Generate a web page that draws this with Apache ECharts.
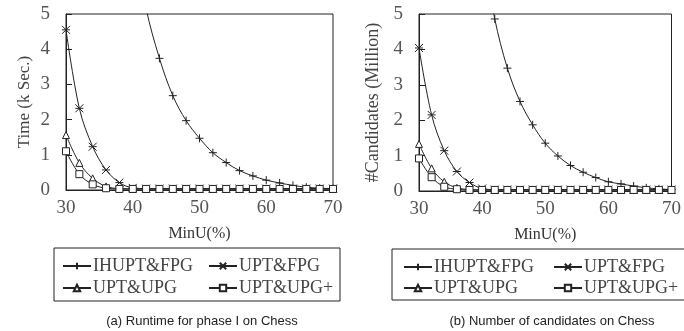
<!DOCTYPE html>
<html>
<head>
<meta charset="utf-8">
<script src="https://cdn.jsdelivr.net/npm/echarts@6/dist/echarts.min.js"></script>
<style>
  html, body { margin: 0; padding: 0; background: #fff; }
  #main { width: 684px; height: 331px; }
</style>
</head>
<body>
<div id="main"></div>
<script>
// MinU (%) on the x axis
var minU = [30, 32, 34, 36, 38, 40, 42, 44, 46, 48, 50, 52, 54, 56, 58, 60, 62, 64, 66, 68, 70];
var seriesNames = ['IHUPT&FPG', 'UPT&FPG', 'UPT&UPG', 'UPT&UPG+'];
var xTicks = [30, 40, 50, 60, 70];

// (a) runtime, k sec
var timeIHUPT = [null, null, null, null, 10.0, 7.2, 5.15, 3.74, 2.68, 1.97, 1.47, 1.06, 0.78, 0.55, 0.40, 0.28, 0.20, 0.13, 0.08, 0.05, 0.04];
var timeUPTFPG = [4.55, 2.32, 1.23, 0.57, 0.21, 0.06, 0.04, 0.04, 0.04, 0.04, 0.04, 0.04, 0.04, 0.04, 0.04, 0.04, 0.04, 0.04, 0.04, 0.04, 0.04];
var timeUPTUPG = [1.56, 0.77, 0.33, 0.10, 0.04, 0.03, 0.03, 0.03, 0.03, 0.03, 0.03, 0.03, 0.03, 0.03, 0.03, 0.03, 0.03, 0.03, 0.03, 0.03, 0.03];
var timeUPTUPGp = [1.10, 0.45, 0.16, 0.05, 0.03, 0.03, 0.03, 0.03, 0.03, 0.03, 0.03, 0.03, 0.03, 0.03, 0.03, 0.03, 0.03, 0.03, 0.03, 0.03, 0.03];

// (b) number of candidates, million
var candIHUPT = [null, null, null, null, 9.6, 6.9, 4.86, 3.47, 2.53, 1.87, 1.35, 0.99, 0.72, 0.53, 0.38, 0.26, 0.20, 0.14, 0.09, 0.06, 0.04];
var candUPTFPG = [4.04, 2.15, 1.14, 0.55, 0.24, 0.07, 0.04, 0.04, 0.04, 0.04, 0.04, 0.04, 0.04, 0.04, 0.04, 0.04, 0.04, 0.04, 0.04, 0.04, 0.04];
var candUPTUPG = [1.33, 0.64, 0.26, 0.09, 0.04, 0.03, 0.03, 0.03, 0.03, 0.03, 0.03, 0.03, 0.03, 0.03, 0.03, 0.03, 0.03, 0.03, 0.03, 0.03, 0.03];
var candUPTUPGp = [0.92, 0.39, 0.12, 0.05, 0.03, 0.03, 0.03, 0.03, 0.03, 0.03, 0.03, 0.03, 0.03, 0.03, 0.03, 0.03, 0.03, 0.03, 0.03, 0.03, 0.03];

var serif = '"Liberation Serif", "DejaVu Serif", serif';
var ink = '#222';
var symbols = [
    'path://M0,5L10,5M5,0L5,10',
    'path://M0,0L10,10M10,0L0,10M0,5L10,5',
    'triangle',
    'rect'
];
var symbolSizes = [8, 8, 7, 7];

function pairs(vals) {
    return minU.map(function (x, i) { return [x, vals[i]]; });
}

function makeSeries(name, vals, idx, k) {
    return {
        name: name,
        type: 'line',
        xAxisIndex: idx,
        yAxisIndex: idx,
        data: pairs(vals),
        smooth: 0.35,
        clip: true,
        symbol: symbols[k],
        symbolSize: symbolSizes[k],
        showSymbol: true,
        lineStyle: { color: ink, width: 1 },
        itemStyle: { color: '#fff', borderColor: ink, borderWidth: 1 },
        emphasis: { disabled: true }
    };
}

function xAxis(idx) {
    return {
        type: 'value', gridIndex: idx, min: 30, max: 70, interval: 10,
        name: 'MinU(%)', nameLocation: 'middle', nameGap: 36,
        nameTextStyle: { fontFamily: serif, fontSize: 16, color: '#333' },
        axisLine: { lineStyle: { color: ink } },
        axisTick: { inside: true, length: 5, lineStyle: { color: ink } },
        axisLabel: { fontFamily: serif, fontSize: 19, color: '#555', margin: 9,
            customValues: xTicks },
        splitLine: { show: false }
    };
}

function yAxis(idx, title, gap, size) {
    return {
        type: 'value', gridIndex: idx, min: 0, max: 5, interval: 1,
        name: title, nameLocation: 'middle', nameGap: gap, nameRotate: 90,
        nameTextStyle: { fontFamily: serif, fontSize: size, color: '#444' },
        axisLine: { lineStyle: { color: ink } },
        axisTick: { inside: true, length: 6, lineStyle: { color: ink } },
        axisLabel: { fontFamily: serif, fontSize: 19, color: '#555', margin: 16 },
        splitLine: { show: false }
    };
}

// legend slots: [left, top] per item for each chart
var legendPos = [
    [[62, 257], [208, 257], [62, 279], [208, 279]],
    [[403, 258], [553, 258], [403, 279], [553, 279]]
];
var legends = [];
legendPos.forEach(function (pos) {
    pos.forEach(function (p, k) {
        legends.push({
            data: [seriesNames[k]],
            left: p[0], top: p[1],
            padding: 0,
            itemWidth: 28, itemHeight: 8, itemGap: 0,
            selectedMode: false,
            textStyle: { fontFamily: serif, fontSize: 18, color: '#444', padding: [0, 0, 0, -3] }
        });
    });
});

var chart = echarts.init(document.getElementById('main'));
var series = [];
var timeData = [timeIHUPT, timeUPTFPG, timeUPTUPG, timeUPTUPGp];
var candData = [candIHUPT, candUPTFPG, candUPTUPG, candUPTUPGp];
seriesNames.forEach(function (n, k) { series.push(makeSeries(n, timeData[k], 0, k)); });
seriesNames.forEach(function (n, k) { series.push(makeSeries(n, candData[k], 1, k)); });

chart.setOption({
    animation: false,
    backgroundColor: '#fff',
    title: [
        { text: '(a) Runtime for phase I on Chess', left: 197, top: 310, textAlign: 'center',
          textStyle: { fontFamily: '"Liberation Sans", Arial, sans-serif', fontSize: 13, fontWeight: 'normal', color: '#222' } },
        { text: '(b) Number of candidates on Chess', left: 547, top: 310, textAlign: 'center',
          textStyle: { fontFamily: '"Liberation Sans", Arial, sans-serif', fontSize: 13, fontWeight: 'normal', color: '#222' } }
    ],
    grid: [
        { left: 66, right: 351, top: 14, bottom: 141, show: true, borderColor: ink, borderWidth: 1, backgroundColor: 'transparent' },
        { left: 419, right: 3, top: 14, bottom: 140, show: true, borderColor: ink, borderWidth: 1, backgroundColor: 'transparent' }
    ],
    xAxis: [xAxis(0), xAxis(1)],
    yAxis: [yAxis(0, 'Time (k Sec.)', 33, 17), yAxis(1, '#Candidates (Million)', 37, 18)],
    legend: legends,
    graphic: [
        { type: 'rect', shape: { x: 54, y: 248, width: 286, height: 53 },
          style: { fill: 'none', stroke: ink, lineWidth: 1 } },
        { type: 'rect', shape: { x: 392, y: 249, width: 300, height: 51 },
          style: { fill: 'none', stroke: ink, lineWidth: 1 } }
    ],
    series: series
});

window.addEventListener('resize', function () {
    chart.resize();
});
</script>
</body>
</html>
